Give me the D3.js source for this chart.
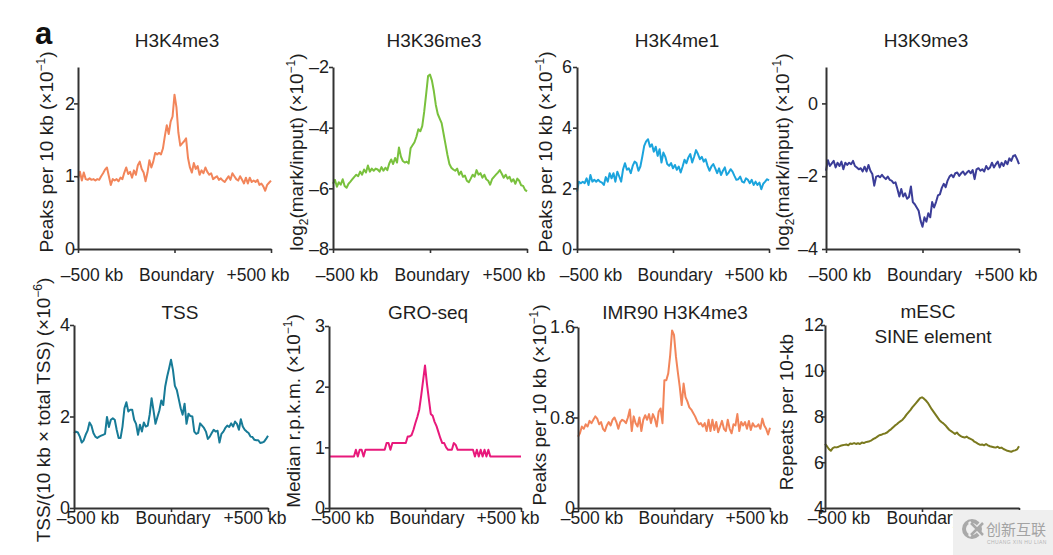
<!DOCTYPE html>
<html>
<head>
<meta charset="utf-8">
<script src="https://cdn.jsdelivr.net/npm/d3@7"></script>
<style>
  html, body { margin: 0; padding: 0; background: #fff; }
  svg { display: block; font-family: "Liberation Sans", Arial, Helvetica, sans-serif; }
</style>
</head>
<body>
<svg id="chart" width="1053" height="555"></svg>
<script>
// ---------------- DATA ----------------
// Position of each bin relative to the TAD boundary (kb)
const binsKb = d3.range(-500, 501, 10);
const xTickValues = [-500, 0, 500];
const xTickLabels = ["\u2013500 kb", "Boundary", "+500 kb"];

const h3k4me3 = [0.97,1.06,0.94,1.05,0.96,0.95,0.97,0.95,0.96,0.94,0.96,0.95,1.00,1.04,1.09,1.12,1.00,0.88,0.96,0.94,
  0.96,0.93,0.98,0.96,1.05,1.12,1.03,1.06,0.98,1.08,1.02,1.15,1.20,1.10,1.05,0.93,1.05,1.22,1.12,1.20,
  1.32,1.30,1.32,1.30,1.38,1.55,1.70,1.58,1.75,1.82,2.12,1.95,1.60,1.42,1.45,1.48,1.52,1.25,1.12,1.05,
  1.18,1.10,1.14,1.02,1.08,1.04,1.12,1.06,1.02,1.04,0.96,0.98,1.00,0.95,0.97,0.94,0.92,0.96,1.00,0.95,
  1.04,1.00,0.96,0.94,1.00,0.95,0.90,0.98,0.90,0.98,0.92,0.94,0.92,0.95,0.88,0.90,0.86,0.80,0.88,0.91,0.94];

const h3k36me3 = [-5.85,-5.72,-5.95,-5.80,-5.88,-5.70,-5.92,-5.98,-5.85,-5.78,-5.70,-5.62,-5.55,-5.60,-5.45,-5.55,-5.38,-5.48,-5.25,-5.45,
  -5.35,-5.42,-5.35,-5.38,-5.45,-5.30,-5.42,-5.32,-5.40,-5.18,-5.05,-5.20,-5.00,-5.15,-4.65,-4.95,-5.10,-5.15,-5.12,-5.18,
  -4.68,-4.58,-4.48,-4.30,-4.05,-4.12,-3.95,-3.48,-2.90,-2.30,-2.25,-2.45,-2.80,-3.25,-3.55,-3.70,-3.85,-4.20,-4.55,-4.90,
  -5.20,-5.32,-5.38,-5.42,-5.35,-5.55,-5.45,-5.62,-5.58,-5.75,-5.80,-5.68,-5.55,-5.62,-5.40,-5.55,-5.50,-5.65,-5.55,-5.70,
  -5.75,-5.88,-5.70,-5.62,-5.55,-5.48,-5.40,-5.52,-5.65,-5.55,-5.68,-5.62,-5.78,-5.70,-5.85,-5.68,-5.75,-5.90,-5.92,-6.05,-6.10];

const h3k4me1 = [1.89,2.22,2.17,2.22,2.17,2.33,2.11,2.44,2.22,2.28,2.22,2.28,2.22,2.19,2.11,2.37,2.22,2.50,2.33,2.50,
  2.22,2.55,2.39,2.22,2.63,2.83,2.61,2.66,2.50,2.74,2.88,2.83,2.58,2.72,3.04,3.40,3.55,3.62,3.37,3.45,
  3.21,3.37,3.07,3.29,2.85,3.18,3.04,2.80,2.74,2.83,2.66,2.77,2.61,2.72,2.52,2.72,2.94,2.83,3.02,3.13,
  2.85,3.04,3.26,3.13,2.96,3.04,2.88,2.96,2.74,2.58,2.72,2.80,2.66,2.50,2.66,2.44,2.58,2.69,2.44,2.52,
  2.63,2.55,2.41,2.28,2.30,2.39,2.22,2.19,2.33,2.28,2.17,2.28,2.11,2.22,2.11,2.19,1.97,2.15,2.22,2.30,2.26];

const h3k9me3 = [-1.85,-1.56,-1.72,-1.65,-1.58,-1.76,-1.63,-1.72,-1.60,-1.81,-1.63,-1.69,-1.63,-1.67,-1.58,-1.72,-1.76,-1.81,-1.78,-1.87,
  -1.74,-1.87,-1.69,-1.85,-1.94,-2.26,-2.01,-1.99,-2.03,-1.96,-2.03,-2.08,-2.01,-2.10,-2.12,-2.19,-2.17,-2.35,-2.56,-2.35,
  -2.56,-2.47,-2.62,-2.57,-2.28,-2.71,-2.77,-2.86,-2.95,-3.22,-3.39,-3.13,-3.25,-3.02,-3.13,-2.71,-2.86,-2.71,-2.53,-2.50,
  -2.32,-2.21,-2.30,-2.12,-2.01,-1.96,-2.03,-1.92,-1.90,-1.99,-1.92,-1.87,-1.96,-1.90,-1.85,-1.92,-1.83,-2.08,-1.81,-1.78,
  -1.85,-1.81,-1.87,-1.72,-1.81,-1.76,-1.63,-1.76,-1.67,-1.60,-1.76,-1.63,-1.72,-1.58,-1.67,-1.51,-1.58,-1.44,-1.42,-1.53,-1.67];

const tss = [1.64,1.67,1.65,1.56,1.43,1.48,1.60,1.69,1.87,1.80,1.64,1.56,1.53,1.56,1.58,1.60,1.62,1.99,1.77,1.93,
  1.96,1.93,1.71,1.53,1.53,1.78,2.18,2.31,2.11,2.15,2.15,1.93,1.84,1.60,1.82,1.67,1.87,1.78,1.80,2.04,
  2.40,2.13,1.84,1.99,2.13,2.35,2.25,2.65,2.87,3.05,3.24,3.02,2.67,2.58,2.38,2.18,2.04,2.28,1.84,2.06,
  2.01,2.00,1.67,1.62,1.64,1.85,1.80,1.75,1.67,1.51,1.56,1.64,1.71,1.67,1.69,1.43,1.62,1.67,1.75,1.80,
  1.77,1.85,1.78,1.89,1.84,1.71,1.94,1.78,1.71,1.67,1.64,1.56,1.55,1.49,1.48,1.48,1.42,1.43,1.45,1.51,1.58];

const groSeq = [0.85,0.85,0.85,0.85,0.85,0.85,0.85,0.85,0.85,0.85,0.85,0.85,0.85,0.85,0.96,0.85,0.96,0.96,0.85,0.96,
  0.96,0.96,0.96,0.96,0.96,0.96,0.96,0.96,0.96,0.96,1.07,1.07,0.96,1.07,1.07,1.07,1.07,1.07,1.07,1.07,
  1.07,1.18,1.18,1.20,1.29,1.40,1.50,1.62,1.85,2.10,2.35,2.05,1.80,1.55,1.52,1.42,1.35,1.25,1.15,1.07,
  1.07,1.00,0.96,0.96,0.96,1.07,1.04,0.96,0.96,0.96,0.96,0.96,0.96,0.96,0.96,0.96,0.85,0.96,0.85,0.96,
  0.85,0.96,0.85,0.96,0.85,0.85,0.85,0.85,0.85,0.85,0.85,0.85,0.85,0.85,0.85,0.85,0.85,0.85,0.85,0.85,0.85];

const imr90H3k4me3 = [0.63,0.66,0.72,0.70,0.74,0.72,0.77,0.75,0.78,0.81,0.79,0.74,0.76,0.70,0.68,0.73,0.76,0.73,0.78,0.80,
  0.76,0.70,0.76,0.78,0.77,0.75,0.80,0.87,0.68,0.81,0.75,0.72,0.80,0.68,0.78,0.82,0.78,0.83,0.75,0.83,
  0.79,0.72,0.85,0.88,0.75,1.13,1.13,1.19,1.35,1.57,1.53,1.34,1.20,1.07,0.91,1.10,0.98,0.94,0.89,0.87,
  0.84,0.81,0.77,0.74,0.75,0.72,0.75,0.68,0.78,0.68,0.78,0.69,0.76,0.67,0.72,0.77,0.70,0.68,0.78,0.70,
  0.66,0.74,0.73,0.83,0.68,0.76,0.73,0.76,0.70,0.77,0.69,0.75,0.72,0.72,0.74,0.70,0.79,0.73,0.70,0.65,0.71];

const mescSine = [6.80,6.70,6.58,6.50,6.62,6.66,6.65,6.68,6.72,6.74,6.76,6.78,6.74,6.82,6.80,6.84,6.80,6.83,6.80,6.86,
  6.84,6.88,6.90,6.92,6.96,7.02,7.06,7.12,7.18,7.20,7.24,7.26,7.30,7.38,7.44,7.52,7.60,7.66,7.74,7.80,
  7.86,7.96,8.08,8.18,8.28,8.40,8.50,8.60,8.70,8.80,8.84,8.78,8.70,8.60,8.46,8.32,8.20,8.08,7.96,7.84,
  7.76,7.70,7.62,7.52,7.42,7.36,7.30,7.24,7.30,7.20,7.14,7.10,7.08,7.12,7.06,7.02,6.98,6.90,6.86,6.80,
  6.76,6.78,6.74,6.80,6.74,6.70,6.68,6.66,6.64,6.68,6.62,6.64,6.58,6.54,6.50,6.48,6.46,6.50,6.52,6.56,6.70];

const yTicksH3k4me3 = [0, 1, 2];
const yTicksH3k36me3 = [-8, -6, -4, -2];
const yTicksH3k4me1 = [0, 2, 4, 6];
const yTicksH3k9me3 = [-4, -2, 0];
const yTicksTss = [0, 2, 4];
const yTicksGro = [0, 1, 2, 3];
const yTicksImr90 = [0, 0.8, 1.6];
const yTicksMesc = [4, 6, 8, 10, 12];

// ---------------- LAYOUT ----------------
const panels = [
  { title: ["H3K4me3"], tx: 179, ty: 47, data: h3k4me3, color: "#f2855a", domain: [0, 2.5], ticks: yTicksH3k4me3,
    x0: 78, x1: 271, yb: 249, yt: 67, gap: 3,
    ylab: [["Peaks per 10 kb (\u00d710", ""], ["\u22121", "sup"], [")", ""]], lx: 53, ly: 152 },
  { title: ["H3K36me3"], tx: 436, ty: 47, data: h3k36me3, color: "#79c13d", domain: [-8, -2], ticks: yTicksH3k36me3,
    x0: 333, x1: 527, yb: 249, yt: 67, gap: 4,
    ylab: [["log", ""], ["2", "sub"], ["(mark/input) (\u00d710", ""], ["\u22121", "sup"], [")", ""]], lx: 303, ly: 152 },
  { title: ["H3K4me1"], tx: 679, ty: 47, data: h3k4me1, color: "#1ba4dd", domain: [0, 6], ticks: yTicksH3k4me1,
    x0: 577, x1: 769, yb: 249, yt: 67, gap: 5,
    ylab: [["Peaks per 10 kb (\u00d710", ""], ["\u22121", "sup"], [")", ""]], lx: 552, ly: 152 },
  { title: ["H3K9me3"], tx: 928, ty: 47, data: h3k9me3, color: "#3b3d98", domain: [-4, 1], ticks: yTicksH3k9me3,
    x0: 826, x1: 1019, yb: 249, yt: 67, gap: 8,
    ylab: [["log", ""], ["2", "sub"], ["(mark/input) (\u00d710", ""], ["\u22121", "sup"], [")", ""]], lx: 789, ly: 152 },
  { title: ["TSS"], tx: 182, ty: 319, data: tss, color: "#177b97", domain: [0, 4], ticks: yTicksTss,
    x0: 74, x1: 268, yb: 508, yt: 325, gap: 4,
    ylab: [["TSS/(10 kb \u00d7 total TSS) (\u00d710", ""], ["\u22126", "sup"], [")", ""]], lx: 50, ly: 410 },
  { title: ["GRO-seq"], tx: 430, ty: 319, data: groSeq, color: "#e8197b", domain: [0, 3], ticks: yTicksGro,
    x0: 329, x1: 521, yb: 508, yt: 326, gap: 4,
    ylab: [["Median r.p.k.m. (\u00d710", ""], ["\u22121", "sup"], [")", ""]], lx: 300, ly: 411 },
  { title: ["IMR90 H3K4me3"], tx: 677, ty: 319, data: imr90H3k4me3, color: "#f2855a", domain: [0, 1.6], ticks: yTicksImr90,
    x0: 578, x1: 770, yb: 508, yt: 327, gap: 3,
    ylab: [["Peaks per 10 kb (\u00d710", ""], ["\u22121", "sup"], [")", ""]], lx: 546, ly: 405 },
  { title: ["mESC", "SINE element"], tx: 930, ty: 318, data: mescSine, color: "#7a791e", domain: [4, 12], ticks: yTicksMesc,
    x0: 825, x1: 1019, yb: 508, yt: 325, gap: 1,
    ylab: [["Repeats per 10-kb", ""]], lx: 793, ly: 412 }
];

const svg = d3.select("#chart");
const ink = "#1e1e1e";
const axisCol = "#333";

svg.append("text").attr("x", 35).attr("y", 44).attr("font-size", 31).attr("font-weight", "bold")
  .attr("fill", "#111").text("a");

const fmt = v => (v < 0 ? "\u2013" + Math.abs(v) : String(v));

panels.forEach((p, idx) => {
  const x = d3.scaleLinear().domain([-500, 500]).range([p.x0, p.x1]);
  const y = d3.scaleLinear().domain(p.domain).range([p.yb, p.yt]);
  const g = svg.append("g");

  // line
  const line = d3.line().x((d, i) => x(binsKb[i])).y(d => y(d));
  g.append("path").datum(p.data).attr("d", line).attr("fill", "none")
    .attr("stroke", p.color).attr("stroke-width", 2).attr("stroke-linejoin", "round");

  // y axis
  const ya = g.append("g").attr("transform", `translate(${p.x0},0)`)
    .call(d3.axisLeft(y).tickValues(p.ticks).tickFormat(fmt).tickSize(4).tickSizeOuter(0));
  ya.select(".domain").attr("stroke", axisCol).attr("stroke-width", 2);
  ya.selectAll(".tick line").attr("stroke", axisCol).attr("stroke-width", 1.6);
  ya.selectAll(".tick text").attr("x", -p.gap).attr("font-size", 18).attr("fill", ink)
    .attr("font-family", "'Liberation Sans', Arial, sans-serif");

  // x axis
  const xa = g.append("g").attr("transform", `translate(0,${p.yb})`)
    .call(d3.axisBottom(x).tickValues(xTickValues).tickFormat("").tickSize(4).tickSizeOuter(0));
  xa.select(".domain").attr("stroke", axisCol).attr("stroke-width", 2);
  xa.selectAll(".tick line").attr("stroke", axisCol).attr("stroke-width", 1.6);

  const labY = idx < 4 ? p.yb + 32 : p.yb + 16;
  const labOff = [14, 2, -13];
  xTickValues.forEach((v, i) => {
    g.append("text").attr("x", x(v) + labOff[i]).attr("y", labY).attr("text-anchor", "middle")
      .attr("font-size", 17.5).attr("fill", ink).text(xTickLabels[i]);
  });

  // title
  p.title.forEach((t, i) => {
    g.append("text").attr("x", p.tx + (i ? 3 : -2)).attr("y", p.ty + i * 25).attr("text-anchor", "middle")
      .attr("font-size", 19).attr("fill", ink).text(t);
  });

  // y label
  const yl = g.append("text").attr("transform", `translate(${p.lx},${p.ly}) rotate(-90)`)
    .attr("text-anchor", "middle").attr("font-size", 19).attr("fill", ink);
  p.ylab.forEach(([t, kind], i) => {
    const ts = yl.append("tspan").text(t);
    if (kind === "sup") ts.attr("font-size", 12).attr("dy", -8);
    else if (kind === "sub") ts.attr("font-size", 12).attr("dy", 5);
    else if (i > 0 && p.ylab[i - 1][1] === "sup") ts.attr("dy", 8);
    else if (i > 0 && p.ylab[i - 1][1] === "sub") ts.attr("dy", -5);
  });
});

// watermark overlay (as in the source image)
const wm = svg.append("g");
wm.append("rect").attr("x", 953).attr("y", 510).attr("width", 100).attr("height", 45).attr("fill", "#efefef");
wm.append("circle").attr("cx", 972).attr("cy", 529).attr("r", 8).attr("fill", "none")
  .attr("stroke", "#a9a9a9").attr("stroke-width", 4);
wm.append("path").attr("d", "M969,522 L982,536 M982,522 L969,536").attr("stroke", "#efefef").attr("stroke-width", 3);
wm.append("path").attr("d", "M971,523 L983,535 M983,523 L971,535").attr("stroke", "#a9a9a9").attr("stroke-width", 2.5);
wm.append("text").attr("x", 986).attr("y", 535).attr("font-size", 15)
  .attr("font-family", "'Noto Sans CJK SC', sans-serif").attr("fill", "#a3a3a3").text("创新互联");
wm.append("text").attr("x", 987).attr("y", 544).attr("font-size", 5).attr("fill", "#b5b5b5")
  .attr("letter-spacing", 0.4).text("CHUANG XIN HU LIAN");
</script>
</body>
</html>
